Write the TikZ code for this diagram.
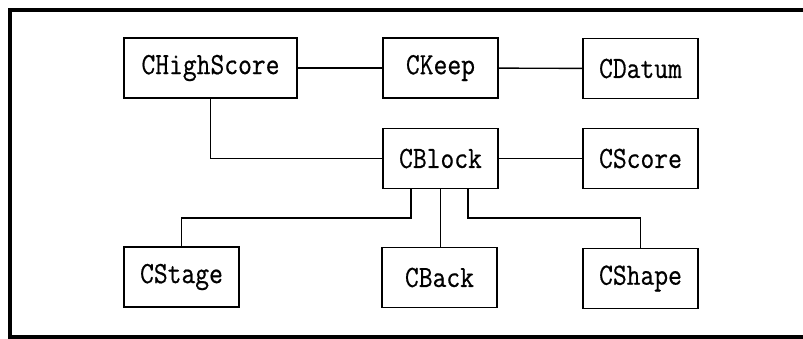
\documentclass[tikz,border=0pt]{standalone}
\usepackage{fontspec}
\usepackage{graphicx}
\newfontfamily\clsfont{Latin Modern Mono}[FakeBold=0.6]
\tikzset{
  cls/.style={draw=black, line width=1.4pt, rectangle, minimum height=60pt,
    inner sep=0pt, font=\clsfont\fontsize{26.8}{28}\selectfont},
  link/.style={draw=black, line width=1.4pt},
  frame/.style={draw=black, line width=4pt}
}
\newcommand{\tallname}[1]{\scalebox{1}[1.15]{#1}}
\begin{document}
\begin{tikzpicture}[x=1pt, y=-1pt]
  \useasboundingbox (0,0) rectangle (803,338);
  \clip (0,0) rectangle (803,338);
  % outer frame, open towards the right edge
  \draw[frame] (810,9.5) -- (9.5,9.5) -- (9.5,336.5) -- (810,336.5);

  % class boxes
  \node[cls, minimum width=173pt] (hs)    at (210.5,68)  {\tallname{CHighScore}};
  \node[cls, minimum width=115pt] (keep)  at (440.5,68)  {\tallname{CKeep}};
  \node[cls, minimum width=115pt] (datum) at (640.5,68.5){\tallname{CDatum}};
  \node[cls, minimum width=115pt] (block) at (440.5,158.5){\tallname{CBlock}};
  \node[cls, minimum width=115pt] (score) at (640.5,158.5){\tallname{CScore}};
  \node[cls, minimum width=115pt] (stage) at (181.5,277) {\tallname{CStage}};
  \node[cls, minimum width=115pt] (back)  at (439.5,277.5){\tallname{CBack}};
  \node[cls, minimum width=115pt] (shape) at (640.5,278.5){\tallname{CShape}};

  % bend points of the tree below CBlock
  \coordinate (bl) at (411,218);
  \coordinate (br) at (468,218);

  % associations
  \draw[link] (hs) -- (keep);
  \draw[link] (keep) -- (datum);
  \draw[link] (block) -- (score);
  \draw[link] (hs.south) |- (block.west);
  \draw[link] (block.south -| bl) -- (bl) -| (stage.north);
  \draw[link] (block.south) -- (block.south |- back.north);
  \draw[link] (block.south -| br) -- (br) -| (shape.north);
\end{tikzpicture}
\end{document}
